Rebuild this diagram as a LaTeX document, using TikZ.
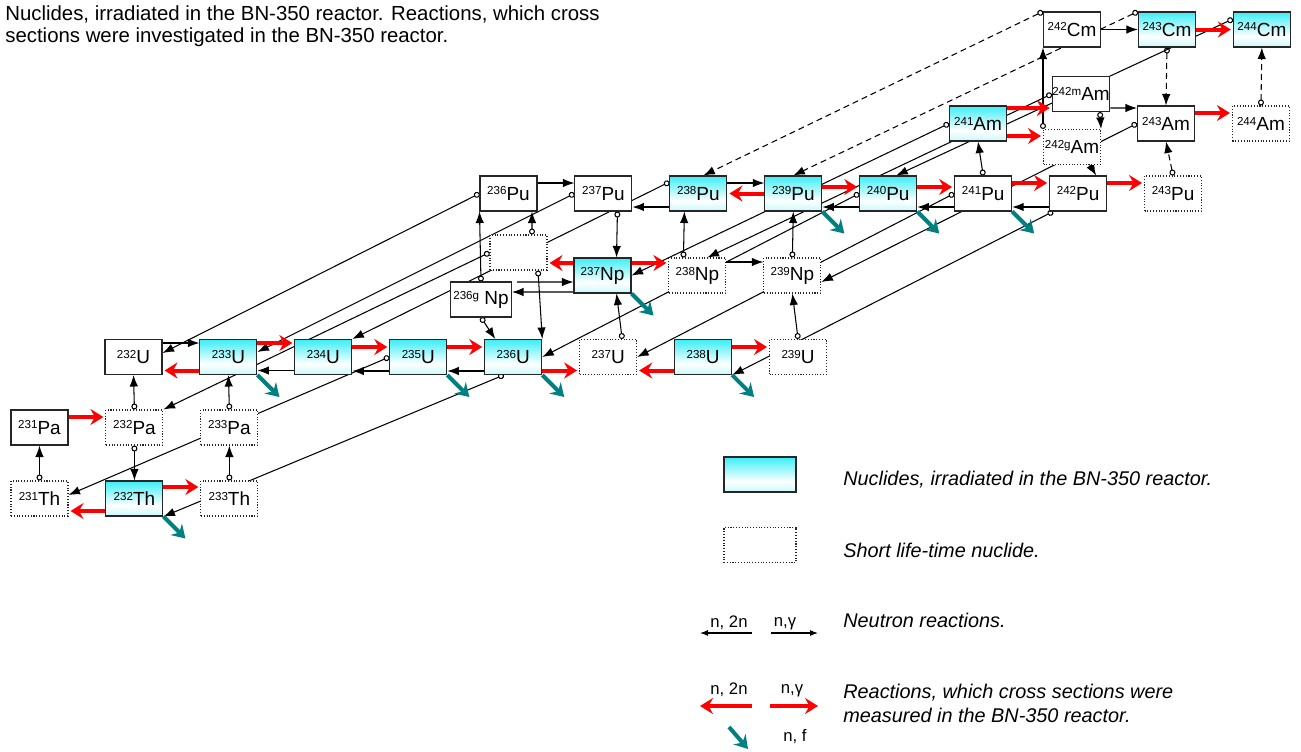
\documentclass[tikz,border=0pt]{standalone}
\usepackage{fontspec}
\setmainfont{Liberation Sans}
\usepackage{xcolor}
\usepackage{tikz}
\usetikzlibrary{arrows.meta, positioning, calc}
\definecolor{nuccyan}{RGB}{60,238,246}
\definecolor{nucpale}{RGB}{200,248,251}
\definecolor{fisteal}{RGB}{0,128,128}
\pgfdeclareverticalshading{nucshade}{100bp}{color(0bp)=(nucpale); color(25bp)=(nucpale); color(40bp)=(white); color(75bp)=(nuccyan); color(100bp)=(nuccyan)}
\pgfdeclarelayer{bg}
\pgfsetlayers{bg,main}
\newcommand{\nucl}[2]{\raisebox{2.9pt}{\fontsize{6.6}{7}\selectfont #1}#2}

\begin{document}
\begin{tikzpicture}[
    x=0.02cm, y=-0.02cm,
    node distance=0.738cm,
    nuc/.style={rectangle, draw=black!85, line width=0.6pt, fill=white, minimum width=1.14cm, minimum height=0.7cm, inner sep=0pt, font=\fontsize{10.8}{11}\selectfont},
    irrnuc/.style={nuc, shade, shading=nucshade},
    shortnuc/.style={nuc, densely dotted},
    decay/.style={arrows={{Circle[open,length=1.2mm]}-{Latex[length=2.3mm,width=1.7mm]}}, line width=0.6pt},
    ddecay/.style={decay, dash pattern=on 1.2mm off 0.8mm},
    nreac/.style={-{Latex[length=2.3mm,width=1.7mm]}, line width=0.6pt},
    meas/.style={-{Stealth[length=2.6mm,width=3.2mm,inset=0.9mm]}, line width=0.08cm, red, shorten >=0.04cm},
    fission/.style={-{Stealth[length=2.6mm,width=3.2mm,inset=0.9mm]}, line width=0.08cm, fisteal},
    legtext/.style={anchor=west, inner sep=0pt, align=left, font=\fontsize{11.3}{13.6}\selectfont\itshape},
    leglabel/.style={inner sep=0pt, font=\fontsize{9.5}{11}\selectfont}
]
    \useasboundingbox (0,0) rectangle (1301,751);

    \node[anchor=north west, inner sep=0pt, align=left, font=\fontsize{11.6}{13}\selectfont] (title) at (5,5)
        {Nuclides, irradiated in the BN-350 reactor. Reactions, which cross\\sections were investigated in the BN-350 reactor.};

    \node[shortnuc] (Th231) at (39.5,498.5) {\nucl{231}{Th}};
    \node[irrnuc, right=of Th231] (Th232) {\nucl{232}{Th}};
    \node[shortnuc, right=of Th232] (Th233) {\nucl{233}{Th}};

    \node[nuc] (Pa231) at (39.5,427.5) {\nucl{231}{Pa}};
    \node[shortnuc, right=of Pa231] (Pa232) {\nucl{232}{Pa}};
    \node[shortnuc, right=of Pa232] (Pa233) {\nucl{233}{Pa}};

    \node[nuc] (U232) at (133.5,357) {\nucl{232}{U}};
    \node[irrnuc, right=of U232] (U233) {\nucl{233}{U}};
    \node[irrnuc, right=of U233] (U234) {\nucl{234}{U}};
    \node[irrnuc, right=of U234] (U235) {\nucl{235}{U}};
    \node[irrnuc, right=of U235] (U236) {\nucl{236}{U}};
    \node[shortnuc, right=of U236] (U237) {\nucl{237}{U}};
    \node[irrnuc, right=of U237] (U238) {\nucl{238}{U}};
    \node[shortnuc, right=of U238] (U239) {\nucl{239}{U}};

    \node[shortnuc] (NpX) at (518.5,252.5) {};
    \node[nuc, minimum width=1.22cm] (Np236g) at (481,299.5) {\nucl{236g}{\ Np}};
    \node[irrnuc] (Np237) at (602.5,275.5) {\nucl{237}{Np}};
    \node[shortnuc, right=of Np237] (Np238) {\nucl{238}{Np}};
    \node[shortnuc, right=of Np238] (Np239) {\nucl{239}{Np}};

    \node[nuc] (Pu236) at (508.5,193.5) {\nucl{236}{Pu}};
    \node[nuc, right=of Pu236] (Pu237) {\nucl{237}{Pu}};
    \node[irrnuc, right=of Pu237] (Pu238) {\nucl{238}{Pu}};
    \node[irrnuc, right=of Pu238] (Pu239) {\nucl{239}{Pu}};
    \node[irrnuc, right=of Pu239] (Pu240) {\nucl{240}{Pu}};
    \node[nuc, right=of Pu240] (Pu241) {\nucl{241}{Pu}};
    \node[nuc, right=of Pu241] (Pu242) {\nucl{242}{Pu}};
    \node[shortnuc, right=of Pu242] (Pu243) {\nucl{243}{Pu}};

    \node[irrnuc] (Am241) at (978,123.5) {\nucl{241}{Am}};
    \node[nuc] (Am242m) at (1081,94) {\nucl{242m}{Am}};
    \node[shortnuc] (Am242g) at (1072,147) {\nucl{242g}{Am}};
    \node[nuc] (Am243) at (1166,123.5) {\nucl{243}{Am}};
    \node[shortnuc, right=of Am243] (Am244) {\nucl{244}{Am}};

    \node[nuc] (Cm242) at (1072,29.5) {\nucl{242}{Cm}};
    \node[irrnuc, right=of Cm242] (Cm243) {\nucl{243}{Cm}};
    \node[irrnuc, right=of Cm243] (Cm244) {\nucl{244}{Cm}};

    \begin{pgfonlayer}{bg}
    \draw[decay] (Th231.north) -- (Pa231.south);
    \draw[decay] (Pa232.north) -- (U232.south);
    \draw[decay] (Pa232.south) -- (Th232.north);
    \draw[decay] (Th233.north) -- (Pa233.south);
    \draw[decay] (Pa233.north) -- (U233.south);
    \draw[decay] ([xshift=0.28cm]U237.north) -- ([xshift=0.28cm]Np237.south);
    \draw[decay] ([xshift=0.28cm]Pu237.south) -- ([xshift=0.28cm]Np237.north);
    \draw[decay] ([xshift=-0.28cm]Np238.north) -- ([xshift=-0.28cm]Pu238.south);
    \draw[decay] (U239.north) -- (Np239.south);
    \draw[decay] (Np239.north) -- (Pu239.south);
    \draw[decay] (Pu241.north) -- (Am241.south);
    \draw[decay] (Np236g.north) -- (Pu236.south west);
    \draw[decay] ([xshift=0.27cm]NpX.north) -- ([xshift=0.47cm]Pu236.south);
    \draw[decay] ([xshift=0.39cm]NpX.south) -- (U236.north east);
    \draw[decay] (Np236g.south) -- ([xshift=-0.36cm]U236.north);
    \draw[decay] ([xshift=0.38cm]Am242m.south) -- (Am242g.north east);
    \draw[decay] ([xshift=0.36cm]Am242g.south) -- ([xshift=0.36cm]Pu242.north);
    \draw[decay] (Am242g.north west) -- (Cm242.south west);
    \draw[ddecay] (Cm243.south) -- (Am243.north);
    \draw[ddecay] (Am244.north) -- (Cm244.south);
    \draw[ddecay] (Pu243.north) -- (Am243.south);

    \draw[nreac] ([yshift=0.28cm]U232.east) -- ([yshift=0.28cm]U233.west);
    \draw[nreac] ([yshift=-0.27cm]U234.west) -- ([yshift=-0.27cm]U233.east);
    \draw[nreac] ([yshift=-0.28cm]U235.west) -- ([yshift=-0.28cm]U234.east);
    \draw[nreac] ([yshift=-0.28cm]U236.west) -- ([yshift=-0.28cm]U235.east);
    \draw[nreac] ([yshift=0.21cm]Pu236.east) -- ([yshift=0.21cm]Pu237.west);
    \draw[nreac] ([yshift=-0.27cm]Pu238.west) -- ([yshift=-0.27cm]Pu237.east);
    \draw[nreac] ([yshift=0.21cm]Pu238.east) -- ([yshift=0.21cm]Pu239.west);
    \draw[nreac] ([yshift=-0.27cm]Pu240.west) -- ([yshift=-0.27cm]Pu239.east);
    \draw[nreac] ([yshift=-0.27cm]Pu241.west) -- ([yshift=-0.27cm]Pu240.east);
    \draw[nreac] ([yshift=-0.27cm]Pu242.west) -- ([yshift=-0.27cm]Pu241.east);
    \draw[nreac] ([yshift=0.27cm]Np238.east) -- ([yshift=0.27cm]Np239.west);
    \draw[nreac] ([yshift=-0.33cm]Np237.west) -- ([yshift=0.15cm]Np236g.east);
    \draw[nreac] ([xshift=0.1cm,yshift=0.35cm]Np236g.east) -- ([yshift=-0.13cm]Np237.west);
    \draw[nreac] ([yshift=-0.28cm]Am242m.east) -- ([yshift=0.31cm]Am243.west);
    \draw[nreac] (Cm242.east) -- (Cm243.west);

    \draw[decay] (Pu236.west) -- ([yshift=0.08cm]U232.east);
    \draw[decay] (Pu237.west) -- ([yshift=0.1cm]U233.east);
    \draw[decay] ([yshift=0.23cm]Pu238.west) -- (U234.north east);
    \draw[decay] (NpX.west) -- (Pa232.north east);
    \draw[decay] (U235.west) -- ([yshift=0.07cm]Th231.east);
    \draw[decay] ([xshift=-0.19cm]U236.south) -- (Th232.south east);
    \draw[decay] (Pu240.west) -- (U236.east);
    \draw[decay] (Pu241.west) -- (U237.east);
    \draw[decay] ([xshift=0.08cm]Pu242.south west) -- (U238.south east);
    \draw[decay] (Am241.west) -- (Np237.east);
    \draw[decay] (Am243.west) -- ([yshift=-0.13cm]Np239.east);
    \draw[decay] (Am242m.west) -- ([xshift=0.2cm]Np238.north);
    \draw[decay] ([yshift=0.21cm]Cm244.west) -- ([xshift=0.16cm]Pu240.north);
    \draw[ddecay] (Cm242.north west) -- ([xshift=0.1cm]Pu238.north);
    \draw[ddecay] (Cm243.north west) -- (Pu239.north);
    \end{pgfonlayer}

    \draw[meas] ([yshift=0.21cm]Pa231.east) -- ([yshift=0.21cm]Pa232.west);
    \draw[meas] ([yshift=0.23cm]Th232.east) -- ([yshift=0.23cm]Th233.west);
    \draw[meas] ([yshift=-0.25cm]Th232.west) -- ([yshift=-0.25cm]Th231.east);
    \draw[meas] ([yshift=-0.27cm]U233.west) -- ([yshift=-0.27cm]U232.east);
    \draw[meas] ([yshift=0.28cm]U233.east) -- ([yshift=0.28cm]U234.west);
    \draw[meas] ([yshift=0.2cm]U234.east) -- ([yshift=0.2cm]U235.west);
    \draw[meas] ([yshift=0.2cm]U235.east) -- ([yshift=0.2cm]U236.west);
    \draw[meas] ([yshift=-0.27cm]U236.east) -- ([yshift=-0.27cm]U237.west);
    \draw[meas] ([yshift=-0.27cm]U238.west) -- ([yshift=-0.27cm]U237.east);
    \draw[meas] ([yshift=0.2cm]U238.east) -- ([yshift=0.2cm]U239.west);
    \draw[meas] ([yshift=0.25cm]Np237.west) -- ([yshift=-0.21cm]NpX.east);
    \draw[meas] ([yshift=0.25cm]Np237.east) -- ([yshift=0.25cm]Np238.west);
    \draw[meas] (Pu239.west) -- (Pu238.east);
    \draw[meas] ([yshift=0.13cm]Pu239.east) -- ([yshift=0.13cm]Pu240.west);
    \draw[meas] ([yshift=0.13cm]Pu240.east) -- ([yshift=0.13cm]Pu241.west);
    \draw[meas] ([yshift=0.21cm]Pu241.east) -- ([yshift=0.21cm]Pu242.west);
    \draw[meas] ([yshift=0.21cm]Pu242.east) -- ([yshift=0.21cm]Pu243.west);
    \draw[meas] ([yshift=0.31cm]Am241.east) -- ([yshift=-0.28cm]Am242m.west);
    \draw[meas] ([yshift=-0.25cm]Am241.east) -- ([yshift=0.22cm]Am242g.west);
    \draw[meas] ([yshift=0.21cm]Am243.east) -- ([yshift=0.21cm]Am244.west);
    \draw[meas] (Cm243.east) -- (Cm244.west);

    \draw[fission] (Th232.south east) -- +(22,22);
    \draw[fission] (U233.south east) -- +(22,22);
    \draw[fission] (U235.south east) -- +(22,22);
    \draw[fission] (U236.south east) -- +(22,22);
    \draw[fission] (U238.south east) -- +(22,22);
    \draw[fission] (Np237.south east) -- +(22,22);
    \draw[fission] (Pu239.south east) -- +(22,22);
    \draw[fission] (Pu240.south east) -- +(22,22);
    \draw[fission] (Pu241.south east) -- +(22,22);

    \node[irrnuc, minimum width=1.44cm] (legirr) at (760,474.5) {};
    \node[shortnuc, minimum width=1.44cm] (legshort) at (760,545) {};
    \node[legtext] (txtirr) at (843,480) {Nuclides, irradiated in the BN-350 reactor.};
    \node[legtext] (txtshort) at (843,550) {Short life-time nuclide.};
    \node[legtext] (txtreac) at (843,620) {Neutron reactions.};
    \node[legtext] (txtmeas) at (843,703) {Reactions, which cross sections were\\measured in the BN-350 reactor.};

    \coordinate (k2a) at (752,633);
    \coordinate (k2b) at (700,633);
    \coordinate (kga) at (771,633);
    \coordinate (kgb) at (818,633);
    \coordinate (r2a) at (752,706);
    \coordinate (r2b) at (700,706);
    \coordinate (rga) at (770,706);
    \coordinate (rgb) at (818,706);
    \coordinate (fa) at (729,727);
    \coordinate (fb) at (748,749);
    \draw[-{Latex[length=1.6mm,width=1.2mm]}, line width=0.6pt] (k2a) -- (k2b);
    \draw[-{Latex[length=1.6mm,width=1.2mm]}, line width=0.6pt] (kga) -- (kgb);
    \draw[meas, shorten >=0pt] (r2a) -- (r2b);
    \draw[meas, shorten >=0pt] (rga) -- (rgb);
    \draw[fission] (fa) -- (fb);
    \node[leglabel] (lk2) at (729,623) {n, 2n};
    \node[leglabel] (lkg) at (785,624) {n,γ};
    \node[leglabel] (lr2) at (729,690) {n, 2n};
    \node[leglabel] (lrg) at (792,691) {n,γ};
    \node[leglabel] (lf) at (795,737) {n, f};
\end{tikzpicture}
\end{document}
